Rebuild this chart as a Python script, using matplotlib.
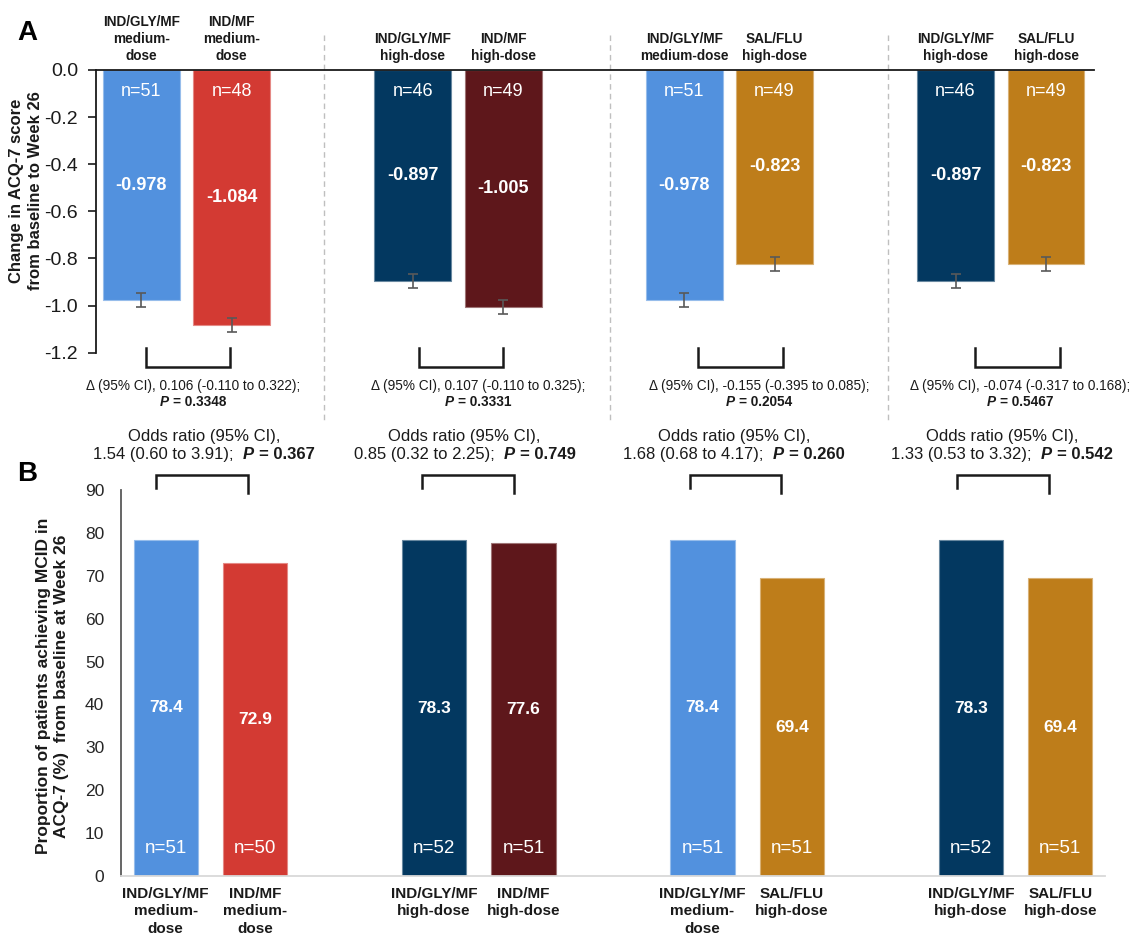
import matplotlib
matplotlib.use('Agg')
import numpy as np
import matplotlib.pyplot as plt
from matplotlib.colors import to_rgb
from matplotlib.transforms import blended_transform_factory, IdentityTransform

plt.rcParams['font.family'] = ['Liberation Sans', 'DejaVu Sans']

W, H = 1133, 935

# ---- data ----
top_labels = ['IND/GLY/MF\nmedium-\ndose', 'IND/MF\nmedium-\ndose',
              'IND/GLY/MF\nhigh-dose', 'IND/MF\nhigh-dose',
              'IND/GLY/MF\nmedium-dose', 'SAL/FLU\nhigh-dose',
              'IND/GLY/MF\nhigh-dose', 'SAL/FLU\nhigh-dose']
bottom_labels = ['IND/GLY/MF\nmedium-\ndose', 'IND/MF\nmedium-\ndose',
                 'IND/GLY/MF\nhigh-dose', 'IND/MF\nhigh-dose',
                 'IND/GLY/MF\nmedium-\ndose', 'SAL/FLU\nhigh-dose',
                 'IND/GLY/MF\nhigh-dose', 'SAL/FLU\nhigh-dose']
change_values = [-0.978, -1.084, -0.897, -1.005, -0.978, -0.823, -0.897, -0.823]
change_se = [0.03, 0.03, 0.03, 0.03, 0.03, 0.03, 0.03, 0.03]
change_n = [51, 48, 46, 49, 51, 49, 46, 49]
mcid_values = [78.4, 72.9, 78.3, 77.6, 78.4, 69.4, 78.3, 69.4]
mcid_n = [51, 50, 52, 51, 51, 51, 52, 51]
delta_text = ['\u0394 (95% CI), 0.106 (-0.110 to 0.322);',
              '\u0394 (95% CI), 0.107 (-0.110 to 0.325);',
              '\u0394 (95% CI), -0.155 (-0.395 to 0.085);',
              '\u0394 (95% CI), -0.074 (-0.317 to 0.168);']
delta_p = ['0.3348', '0.3331', '0.2054', '0.5467']
odds_text = ['1.54 (0.60 to 3.91);', '0.85 (0.32 to 2.25);',
             '1.68 (0.68 to 4.17);', '1.33 (0.53 to 3.32);']
odds_p = ['0.367', '0.749', '0.260', '0.542']

# ---- layout / style ----
positions = [0, 1, 3, 4, 6, 7, 9, 10]
colors = ['#5291DE', '#D33A33', '#033860', '#5E171B',
          '#5291DE', '#BE7D1A', '#033860', '#BE7D1A']
edges = [tuple(0.6 * np.array(to_rgb(c)) + 0.4) for c in colors]
delta_x = [0.57, 3.72, 6.83, 9.71]
bracket_a = [(0.055, 0.98), (3.07, 4.0), (6.15, 7.09), (9.22, 10.15)]
odds_x = [0.425, 3.34, 6.35, 9.35]
bracket_b = [(-0.11, 0.92), (2.87, 3.89), (5.86, 6.88), (8.84, 9.87)]
dividers = [2.02, 5.18, 8.25]

fig = plt.figure(figsize=(W / 100, H / 100), dpi=100)
renderer = fig.canvas.get_renderer()


def box(l, t, r, b):
    return [l / W, 1 - b / H, (r - l) / W, (b - t) / H]


def rich_line(ax, x, y, parts, size, gaps):
    # place differently styled pieces side by side, centred at (x, y) in data coords
    texts, widths = [], []
    for s, weight, style in parts:
        t = fig.text(0, 0, s, fontsize=size, fontweight=weight, fontstyle=style,
                     transform=IdentityTransform(), ha='left', va='center',
                     color='#1a1a1a')
        widths.append(t.get_window_extent(renderer).width)
        texts.append(t)
    total = sum(widths) + sum(gaps)
    cx, cy = ax.transData.transform((x, y))
    left = cx - total / 2
    for i, t in enumerate(texts):
        t.set_position((left, cy))
        left += widths[i] + (gaps[i] if i < len(gaps) else 0)


# ---------------- Panel A ----------------
axA = fig.add_axes(box(96, 70, 1094, 352.7))
axA.bar(positions, change_values, width=0.85, color=colors, edgecolor=edges,
        linewidth=0.8, yerr=change_se,
        error_kw=dict(ecolor='#595959', elinewidth=1.2, capsize=3.5, capthick=1.2))
axA.set_xlim(-0.5, 10.53)
axA.set_ylim(-1.2, 0)
yt = np.round(np.arange(-1.2, 0.01, 0.2), 1)
axA.set_yticks(yt)
axA.set_yticklabels(['%.1f' % abs(v) if v == 0 else '%.1f' % v for v in yt])
axA.set_xticks([])
axA.tick_params(axis='y', direction='out', length=6, width=1.2, labelsize=14,
                pad=7, colors='#1a1a1a')
for s in ['right', 'bottom']:
    axA.spines[s].set_visible(False)
for s in ['top', 'left']:
    axA.spines[s].set_linewidth(1.3)
    axA.spines[s].set_color('#1a1a1a')

for x, v, n, lab in zip(positions, change_values, change_n, top_labels):
    axA.text(x, -0.093, 'n=%d' % n, color='white', fontsize=13,
             ha='center', va='center')
    axA.text(x, v / 2, '%.3f' % v, color='white', fontsize=13,
             fontweight='bold', ha='center', va='center')
    axA.annotate(lab, xy=(x, 0), xytext=(0, 7), textcoords='offset pixels',
                 ha='center', va='bottom', fontsize=9.8, fontweight='bold',
                 linespacing=1.25, color='#1a1a1a', annotation_clip=False)

trans_div = blended_transform_factory(axA.transData, fig.transFigure)
for x in dividers:
    axA.plot([x, x], [1 - 35 / H, 1 - 421 / H], transform=trans_div,
             color='#BFBFBF', lw=1, ls=(0, (4, 3)), clip_on=False)

for (x0, x1), xc, txt, p in zip(bracket_a, delta_x, delta_text, delta_p):
    axA.plot([x0, x0, x1, x1], [-1.18, -1.259, -1.259, -1.18], color='#1a1a1a',
             lw=1.8, clip_on=False, solid_joinstyle='miter')
    axA.text(xc, -1.340, txt, fontsize=9.8, ha='center', va='center',
             color='#1a1a1a', clip_on=False)
    rich_line(axA, xc, -1.410, [('P', 'bold', 'italic'), ('= ' + p, 'bold', 'normal')],
              9.8, [4])

# ---------------- Panel B ----------------
axB = fig.add_axes(box(121, 490, 1105, 876))
axB.bar(positions, mcid_values, width=0.72, color=colors, edgecolor=edges,
        linewidth=0.8)
axB.set_xlim(-0.5, 10.5)
axB.set_ylim(0, 90)
axB.set_yticks(range(0, 91, 10))
axB.set_xticks([])
axB.tick_params(axis='y', length=0, labelsize=12.5, pad=12, colors='#262626')
for s in ['right', 'top']:
    axB.spines[s].set_visible(False)
axB.spines['left'].set_color('#595959')
axB.spines['left'].set_linewidth(1.3)
axB.spines['bottom'].set_color('#D9D9D9')
axB.spines['bottom'].set_linewidth(1.3)

for x, v, n, lab in zip(positions, mcid_values, mcid_n, bottom_labels):
    axB.text(x, 6.5, 'n=%d' % n, color='white', fontsize=13.5,
             ha='center', va='center')
    axB.text(x, v / 2, '%.1f' % v, color='white', fontsize=12.5,
             fontweight='bold', ha='center', va='center')
    axB.annotate(lab, xy=(x, 0), xytext=(0, -11), textcoords='offset pixels',
                 ha='center', va='top', fontsize=11, fontweight='bold',
                 linespacing=1.3, color='#1a1a1a', annotation_clip=False)

for (x0, x1), xc, txt, p in zip(bracket_b, odds_x, odds_text, odds_p):
    axB.plot([x0, x0, x1, x1], [90.5, 93.5, 93.5, 89.4], color='#1a1a1a',
             lw=1.8, clip_on=False, solid_joinstyle='miter')
    axB.text(xc, 102.4, 'Odds ratio (95% CI),', fontsize=12, ha='center',
             va='center', color='#1a1a1a', clip_on=False)
    rich_line(axB, xc, 98.2, [(txt, 'normal', 'normal'), ('P', 'bold', 'italic'),
                              ('= ' + p, 'bold', 'normal')], 12, [9, 5])

# axis titles and panel letters
fig.text(26 / W, 1 - 191 / H, 'Change in ACQ-7 score\nfrom baseline to Week 26',
         rotation=90, ha='center', va='center', fontsize=12, fontweight='bold',
         linespacing=1.3, color='#1a1a1a')
fig.text(53 / W, 1 - 686 / H,
         'Proportion of patients achieving MCID in\nACQ-7 (%)  from baseline at Week 26',
         rotation=90, ha='center', va='center', fontsize=12.5, fontweight='bold',
         linespacing=1.25, color='#1a1a1a')
fig.text(27 / W, 1 - 33 / H, 'A', fontsize=20, fontweight='bold',
         ha='center', va='center')
fig.text(27 / W, 1 - 474 / H, 'B', fontsize=20, fontweight='bold',
         ha='center', va='center')

fig.savefig('out.png', dpi=100)
